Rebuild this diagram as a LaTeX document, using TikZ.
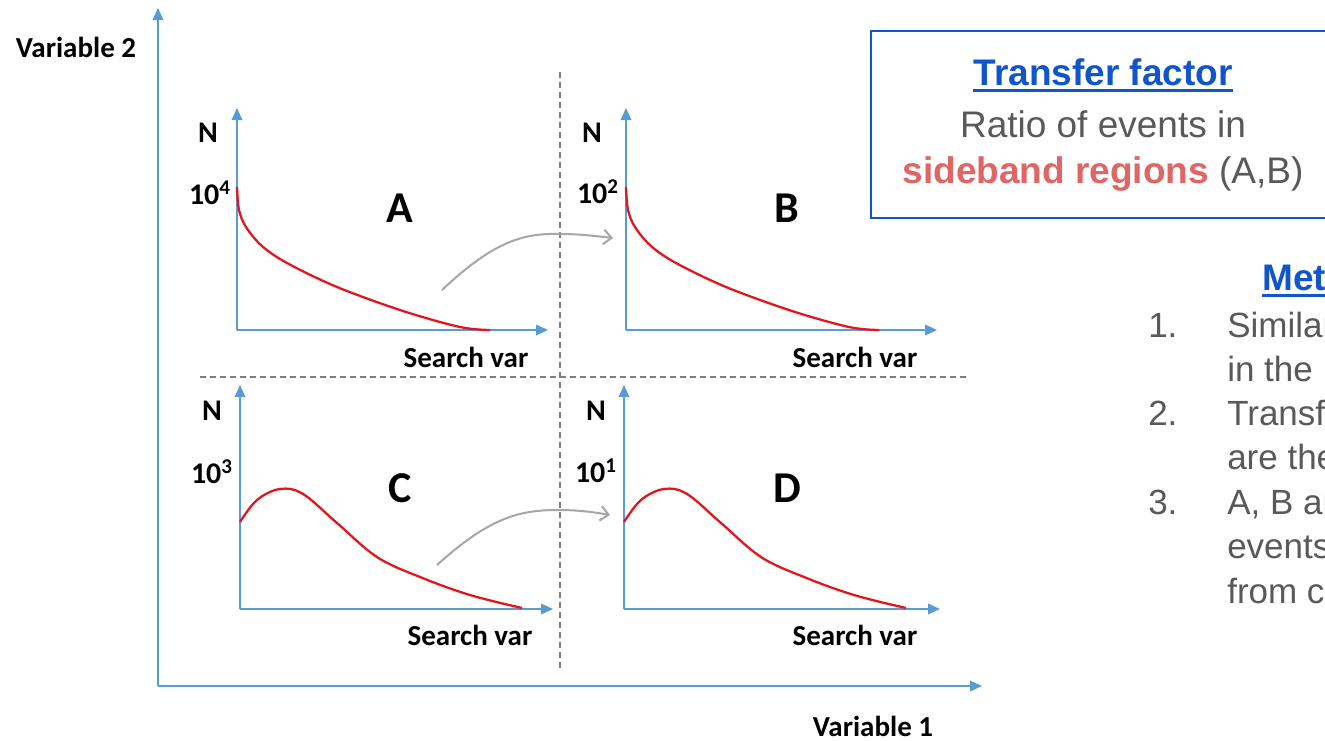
\documentclass[tikz,border=0pt]{standalone}
\usepackage{fontspec}
\setmainfont{Liberation Sans}
\newfontfamily\califont{Carlito}
\usetikzlibrary{arrows.meta}
\definecolor{axblue}{HTML}{5B9BD5}
\definecolor{curvered}{HTML}{E3141B}
\definecolor{flowgray}{HTML}{A6A6A6}
\definecolor{dashgray}{HTML}{7F7F7F}
\definecolor{boxblue}{HTML}{1155CC}
\definecolor{txtgray}{HTML}{595959}
\definecolor{pinkred}{HTML}{E06666}
\begin{document}
\begin{tikzpicture}[x=0.75pt,y=-0.75pt,
  axis/.style={draw=axblue,line width=1.1pt,-{Triangle[length=9pt,width=8pt]}},
  curve/.style={draw=curvered,line width=1.7pt},
  flow/.style={draw=flowgray,line width=1.5pt,-{Straight Barb[length=6pt,width=11pt]}},
  sep/.style={draw=dashgray,line width=1.1pt,dash pattern=on 4.5pt off 3pt},
  lbl/.style={inner sep=0pt,font=\califont\bfseries\fontsize{21.75pt}{24pt}\selectfont},
  small/.style={inner sep=0pt,font=\califont\bfseries\fontsize{22.5pt}{25pt}\selectfont},
  big/.style={inner sep=0pt,font=\califont\bfseries\fontsize{33pt}{36pt}\selectfont},
  rtext/.style={inner sep=0pt,text=txtgray,font=\fontsize{27.75pt}{32pt}\selectfont},
  ltext/.style={inner sep=0pt,anchor=base west,text=txtgray,font=\fontsize{26.25pt}{30pt}\selectfont}]
\useasboundingbox (0,0) rectangle (1325,740);
\fill[white] (0,0) rectangle (1325,740);
% main axes
\coordinate (O) at (158,686);
\coordinate (Ytip) at (158,8);
\coordinate (Xtip) at (982,686);
\draw[axis] (O) -- (Ytip);
\draw[axis] (O) -- (Xtip);
\node[lbl] (v2) at (76,47) {Variable 2};
\node[lbl] (v1) at (873,726) {Variable 1};
% separators
\coordinate (vs1) at (560,72);
\coordinate (vs2) at (560,672);
\coordinate (hs1) at (200,377);
\coordinate (hs2) at (970,377);
\draw[sep] (vs1) -- (vs2);
\draw[sep] (hs1) -- (hs2);
% panel A
\coordinate (Ao) at (237,330);
\coordinate (Ay) at (237,108);
\coordinate (Ax) at (548,330);
\draw[axis] (Ao) -- (Ay);
\draw[axis] (Ao) -- (Ax);
\draw[curve] plot[smooth,tension=0.55] coordinates {(237,187) (239,210) (246,227) (262,246) (287,263) (337,287) (403,311) (460,327) (490,330)};
\node[small] (An) at (208,133) {N};
\node[small,anchor=east] (Av) at (231,193) {10\textsuperscript{4}};
\node[big] (A) at (400,208) {A};
\node[lbl] (As) at (466,357) {Search var};
% panel B
\coordinate (Bo) at (626,330);
\coordinate (By) at (626,108);
\coordinate (Bx) at (937,330);
\draw[axis] (Bo) -- (By);
\draw[axis] (Bo) -- (Bx);
\begin{scope}[shift={(389,0)}]
\draw[curve] plot[smooth,tension=0.55] coordinates {(237,187) (239,210) (246,227) (262,246) (287,263) (337,287) (403,311) (460,327) (490,330)};
\end{scope}
\node[small] (Bn) at (592,133) {N};
\node[small,anchor=east] (Bv) at (619,192) {10\textsuperscript{2}};
\node[big] (B) at (787,208) {B};
\node[lbl] (Bs) at (855,357) {Search var};
% panel C
\coordinate (Co) at (240,609);
\coordinate (Cy) at (240,385);
\coordinate (Cx) at (553,609);
\draw[axis] (Co) -- (Cy);
\draw[axis] (Co) -- (Cx);
\draw[curve] plot[smooth,tension=0.6] coordinates {(240,522) (257,500) (280,489) (303,494) (337,523) (377,557) (420,577) (470,595) (522,608)};
\node[small] (Cn) at (212,411) {N};
\node[small,anchor=east] (Cv) at (233,472) {10\textsuperscript{3}};
\node[big] (C) at (400,488) {C};
\node[lbl] (Cs) at (470,635) {Search var};
% panel D
\coordinate (Do) at (624,609);
\coordinate (Dy) at (624,385);
\coordinate (Dx) at (940,609);
\draw[axis] (Do) -- (Dy);
\draw[axis] (Do) -- (Dx);
\begin{scope}[shift={(384,0)}]
\draw[curve] plot[smooth,tension=0.6] coordinates {(240,522) (257,500) (280,489) (303,494) (337,523) (377,557) (420,577) (470,595) (522,608)};
\end{scope}
\node[small] (Dn) at (596,411) {N};
\node[small,anchor=east] (Dv) at (617,471) {10\textsuperscript{1}};
\node[big] (D) at (787,488) {D};
\node[lbl] (Ds) at (855,635) {Search var};
% flow arrows
\coordinate (f1s) at (442,290);
\coordinate (f1e) at (613,238);
\coordinate (f2s) at (437,565);
\coordinate (f2e) at (610,515);
\draw[flow] (f1s) .. controls (495,240) and (525,233) .. (560,234) .. controls (580,234) and (595,236) .. (f1e);
\draw[flow] (f2s) .. controls (490,517) and (520,510) .. (558,510) .. controls (578,510) and (593,512) .. (f2e);
% right side text (clipped at the page edge)
\begin{scope}
\clip (0,0) rectangle (1325,740);
\draw[boxblue,line width=2.2pt] (871,31) rectangle (1345,218);
\node[inner sep=0pt,text=boxblue,font=\bfseries\fontsize{27.75pt}{32pt}\selectfont] (tf) at (1103,72) {Transfer factor};
\draw[boxblue,line width=2pt] ([yshift=-4pt]tf.base west) -- ([yshift=-4pt]tf.base east);
\node[rtext] (r1) at (1103,124) {Ratio of events in};
\node[rtext] (r2) at (1103,174) {\textcolor{pinkred}{\bfseries sideband regions} (A,B)};
\node[inner sep=0pt,anchor=base west,text=boxblue,font=\bfseries\fontsize{27.75pt}{32pt}\selectfont] (mt) at (1262,290) {Method};
\draw[boxblue,line width=2pt] ([yshift=-4pt]mt.base west) -- ([yshift=-4pt]mt.base east);
\node[ltext] (n1) at (1148,337) {1.};
\node[ltext] (l1) at (1227,337) {Similar};
\node[ltext] (l1b) at (1227,381) {in the};
\node[ltext] (n2) at (1148,425) {2.};
\node[ltext] (l2) at (1227,425) {Transfer};
\node[ltext] (l2b) at (1227,469) {are the};
\node[ltext] (n3) at (1148,514) {3.};
\node[ltext] (l3) at (1227,514) {A, B and};
\node[ltext] (l3b) at (1227,558) {events};
\node[ltext] (l3c) at (1227,603) {from c};
\end{scope}
\end{tikzpicture}
\end{document}
